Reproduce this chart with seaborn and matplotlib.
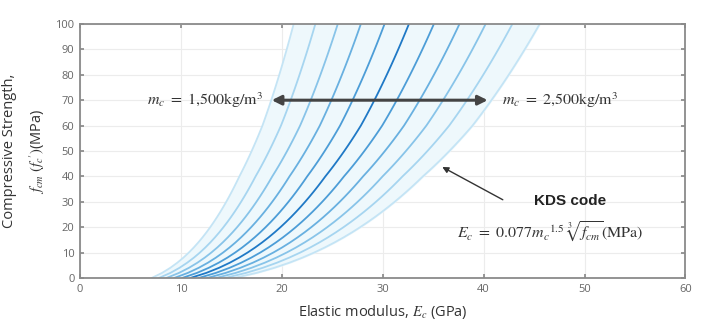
import numpy as np
import pandas as pd
import matplotlib
matplotlib.use("Agg")
import matplotlib.pyplot as plt
import seaborn as sns

# Unit mass of concrete (kg/m^3), one curve each
mass_density = [1500, 1600, 1700, 1800, 1900, 2000, 2100, 2200, 2300, 2400, 2500]
# Line colours: light at both ends of the range, darkest at 2,000 kg/m^3
curve_colors = ["#c4e4f5", "#a6d5f0", "#88c4e9", "#68b0e0", "#4c9dd7", "#1f79c6",
                "#4c9dd7", "#68b0e0", "#88c4e9", "#a6d5f0", "#c4e4f5"]
# Specified strength levels (MPa) along each curve
fck_levels = np.arange(0, 101, 2)
# KDS strength increment: 4 MPa up to 40 MPa, 6 MPa from 60 MPa
delta_f_fck = [0, 40, 60, 100]
delta_f_val = [4, 4, 6, 6]

x_ticks = [0, 10, 20, 30, 40, 50, 60]
y_ticks = [0, 10, 20, 30, 40, 50, 60, 70, 80, 90, 100]

rows = []
for m in mass_density:
    for fck in fck_levels:
        fcm = fck + np.interp(fck, delta_f_fck, delta_f_val)
        ec = 0.077 * m ** 1.5 * np.cbrt(fcm) / 1000.0  # GPa
        rows.append({"m_c": m, "fck": fck, "Ec": ec})
df = pd.DataFrame(rows)

sns.set_theme(style="white")
plt.rcParams["font.family"] = ["Open Sans", "DejaVu Sans"]
plt.rcParams["mathtext.fontset"] = "stix"

fig = plt.figure(figsize=(7.12, 3.32), dpi=100)
ax = fig.add_axes([0.1124, 0.1627, 0.8503, 0.765])

# shaded band between the lightest and heaviest concrete
lo = df[df.m_c == mass_density[0]].sort_values("fck")
hi = df[df.m_c == mass_density[-1]].sort_values("fck")
ax.fill_betweenx(lo["fck"].values, lo["Ec"].values, hi["Ec"].values,
                 color="#eef8fc", zorder=1)

sns.lineplot(data=df, x="Ec", y="fck", hue="m_c", palette=curve_colors,
             sort=False, estimator=None, legend=False, linewidth=1.3,
             ax=ax, zorder=2)

ax.set_xlim(0, 60)
ax.set_ylim(0, 100)
ax.set_xticks(x_ticks)
ax.set_yticks(y_ticks)
ax.grid(True, color="#ececec", linewidth=0.8, zorder=0)
ax.set_axisbelow(True)
for s in ax.spines.values():
    s.set_color("#8a8a8a")
    s.set_linewidth(1.3)
    s.set_visible(True)
ax.tick_params(axis="both", direction="in", length=3, color="#8a8a8a",
               labelsize=8, labelcolor="#666666", top=True, right=True,
               bottom=True, left=True, pad=4)

ax.set_xlabel(r"Elastic modulus, $E_c$ (GPa)", fontsize=10.5, color="#333333",
              labelpad=6)
ax.set_ylabel("Compressive Strength,\n" + r"$f_{cm}\ (f_c{}')$(MPa)",
              fontsize=10.5, color="#333333", labelpad=6, linespacing=1.7)

# double-headed arrow across the range of unit masses
ax.annotate("", xy=(19.0, 70), xytext=(40.4, 70),
            arrowprops=dict(arrowstyle="<|-|>", color="#444444", lw=2.2,
                            mutation_scale=14, shrinkA=0, shrinkB=0), zorder=5)
ax.text(18.2, 70, r"$m_c\ =\ 1{,}500\mathrm{kg/m}^3$", ha="right", va="center",
        fontsize=11.5, color="#333333")
ax.text(41.8, 70, r"$m_c\ =\ 2{,}500\mathrm{kg/m}^3$", ha="left", va="center",
        fontsize=11.5, color="#333333")

ax.annotate("", xy=(35.9, 43.7), xytext=(41.9, 30.8),
            arrowprops=dict(arrowstyle="-|>", color="#333333", lw=1.0,
                            mutation_scale=9, shrinkA=0, shrinkB=0))
ax.text(48.6, 30.3, "KDS code", ha="center", va="center", fontsize=11,
        fontweight="bold", color="#222222", family=["Liberation Sans", "DejaVu Sans"])
ax.text(46.6, 18.2, r"$E_c\ =\ 0.077{m_c}^{1.5}\ \sqrt[3]{f_{cm}}(\mathrm{MPa})$",
        ha="center", va="center", fontsize=11.5, color="#333333")

fig.savefig("out.png", dpi=100)
